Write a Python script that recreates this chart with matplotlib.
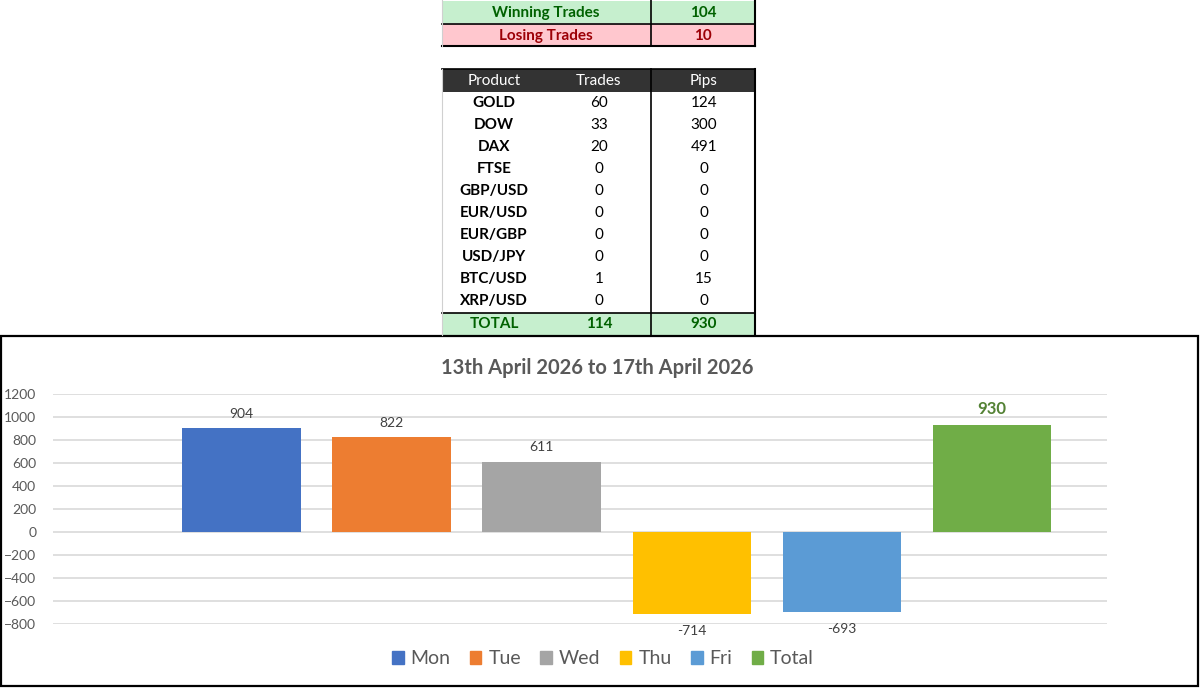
import matplotlib.pyplot as plt
import matplotlib.patches as mpatches
import numpy as np

plt.rcParams['font.family'] = ['Lato', 'DejaVu Sans']

# summary table
products = ["GOLD", "DOW", "DAX", "FTSE", "GBP/USD", "EUR/USD", "EUR/GBP", "USD/JPY", "BTC/USD", "XRP/USD"]
trades = [60, 33, 20, 0, 0, 0, 0, 0, 1, 0]
pips = [124, 300, 491, 0, 0, 0, 0, 0, 15, 0]
winning = 104
losing = 10
total_trades = 114
total_pips = 930

# chart data
days = ["Mon", "Tue", "Wed", "Thu", "Fri", "Total"]
day_pips = [904, 822, 611, -714, -693, 930]
colors = ["#4472C4", "#ED7D31", "#A5A5A5", "#FFC000", "#5B9BD5", "#70AD47"]
title = "13th April 2026 to 17th April 2026"

fig = plt.figure(figsize=(12, 6.88), dpi=100)

# pixel-space canvas for the table and the chart frame
bg = fig.add_axes([0, 0, 1, 1])
bg.set_xlim(0, 1200)
bg.set_ylim(688, 0)
bg.axis('off')

x0, xm, x1 = 442, 651, 755
green_fill, green_txt = "#C6EFCE", "#006100"
red_fill, red_txt = "#FFC7CE", "#9C0006"
fs = 11


def cell_row(y, h, fill):
    bg.add_patch(mpatches.Rectangle((x0, y), x1 - x0, h, facecolor=fill, edgecolor='none'))


# winning / losing block
cell_row(1, 22, green_fill)
cell_row(24, 22, red_fill)
bg.text(546, 13, "Winning Trades", ha='center', va='center', fontsize=fs, weight='bold', color=green_txt)
bg.text(703, 13, str(winning), ha='center', va='center', fontsize=fs, weight='bold', color=green_txt)
bg.text(546, 36, "Losing Trades", ha='center', va='center', fontsize=fs, weight='bold', color=red_txt)
bg.text(703, 36, str(losing), ha='center', va='center', fontsize=fs, weight='bold', color=red_txt)
bg.plot([x0, x1], [23.5, 23.5], color='black', lw=1.2)
bg.plot([x0, x1], [46, 46], color='black', lw=1.5)
bg.plot([xm, xm], [0, 46], color='black', lw=1.2)
bg.plot([x1, x1], [0, 46], color='black', lw=1.5)
bg.plot([x0, x0], [0, 46], color='#d0d0d0', lw=0.8)

# product table
bg.add_patch(mpatches.Rectangle((x0, 69), x1 - x0, 23, facecolor='#333333', edgecolor='none'))
bg.plot([x0, x1], [68.5, 68.5], color='black', lw=1.2)
for label, xc in zip(["Product", "Trades", "Pips"], [494, 599, 704]):
    bg.text(xc, 81, label, ha='center', va='center', fontsize=fs, color='white')

row_y = 103
for p, t, v in zip(products, trades, pips):
    bg.text(494, row_y, p, ha='center', va='center', fontsize=fs, weight='bold', color='black')
    bg.text(599, row_y, str(t), ha='center', va='center', fontsize=fs, color='black')
    bg.text(704, row_y, str(v), ha='center', va='center', fontsize=fs, color='black')
    row_y += 22

cell_row(313, 22, green_fill)
bg.text(494, 324, "TOTAL", ha='center', va='center', fontsize=fs, weight='bold', color=green_txt)
bg.text(599, 324, str(total_trades), ha='center', va='center', fontsize=fs, weight='bold', color=green_txt)
bg.text(704, 324, str(total_pips), ha='center', va='center', fontsize=fs, weight='bold', color=green_txt)
bg.plot([x0, x1], [312.5, 312.5], color='black', lw=1.2)
bg.plot([xm, xm], [69, 335], color='black', lw=1.2)
bg.plot([x1, x1], [69, 335], color='black', lw=1.5)
bg.plot([x0, x0], [69, 335], color='#d0d0d0', lw=0.8)

# chart frame
bg.add_patch(mpatches.Rectangle((1, 335.5), 1197, 350.5, facecolor='none', edgecolor='black', lw=1.6))
bg.text(597, 368, title, ha='center', va='center', fontsize=14.5, weight='bold', color='#595959')

# bar chart
ax = fig.add_axes([53 / 1200, 1 - 624 / 688, (1107 - 53) / 1200, (624 - 394) / 688])
x = np.arange(len(days))
bars = ax.bar(x, day_pips, width=0.79, color=colors, edgecolor='none', zorder=3)
ax.set_ylim(-800, 1200)
ax.set_yticks(np.arange(-800, 1201, 200))
ax.set_xlim(-1.257, 5.767)
ax.set_xticks([])
ax.grid(axis='y', color='#d9d9d9', lw=1.2, zorder=0)
for s in ax.spines.values():
    s.set_visible(False)
ax.tick_params(axis='y', length=0, labelsize=10, labelcolor='#595959', pad=12)
ax.patch.set_alpha(0)

for i, (b, v) in enumerate(zip(bars, day_pips)):
    if days[i] == "Total":
        ax.annotate(str(v), (b.get_x() + b.get_width() / 2, v), xytext=(0, 6), textcoords='offset points',
                    ha='center', va='bottom', fontsize=12, weight='bold', color='#548235')
    elif v >= 0:
        ax.annotate(str(v), (b.get_x() + b.get_width() / 2, v), xytext=(0, 6), textcoords='offset points',
                    ha='center', va='bottom', fontsize=10, color='#404040')
    else:
        ax.annotate(str(v), (b.get_x() + b.get_width() / 2, v), xytext=(0, -8), textcoords='offset points',
                    ha='center', va='top', fontsize=10, color='#404040')

handles = [mpatches.Patch(color=c, label=d) for c, d in zip(colors, days)]
fig.legend(handles=handles, loc='center', bbox_to_anchor=(603 / 1200, 1 - 659 / 688), ncol=6, frameon=False,
           fontsize=14, labelcolor='#595959', handlelength=0.6, handleheight=0.6, handletextpad=0.35,
           columnspacing=1.0)

plt.savefig('out.png', dpi=100)
